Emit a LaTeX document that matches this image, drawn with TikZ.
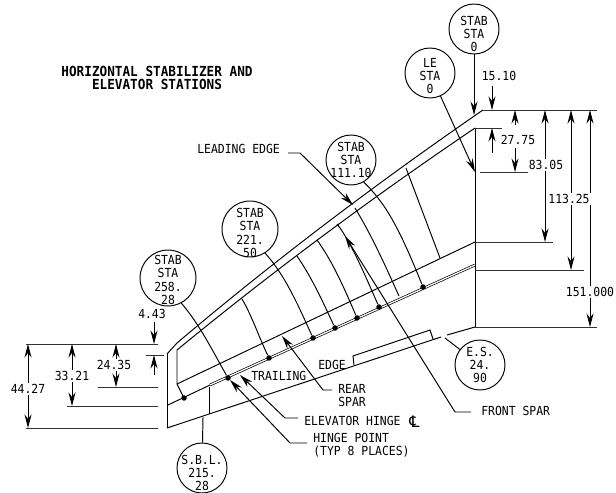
\documentclass[tikz,border=0pt]{standalone}
\usepackage{fontspec}
\newfontfamily\drawfont[FakeStretch=0.915]{DejaVu Sans Mono}
\newfontfamily\symbfont{DejaVu Sans}
\usetikzlibrary{arrows.meta}
\tikzset{
  part/.style={line width=0.55pt},
  dim/.style={line width=0.5pt, color=black!80},
  arrow/.style={line width=0.55pt, -{Stealth[length=0.27cm,width=0.14cm]}},
  bubble/.style={circle, draw, line width=0.55pt, inner sep=0pt},
  bubbletext/.style={align=center, inner sep=0pt, font=\drawfont\fontsize{7.1}{7.6}\selectfont},
  callout/.style={inner sep=0pt, align=left, font=\drawfont\fontsize{7.1}{7.4}\selectfont},
  size/.style={inner sep=1pt, fill=white, font=\drawfont\fontsize{7.1}{7.4}\selectfont},
  heading/.style={inner sep=0pt, align=center, font=\drawfont\bfseries\fontsize{7.9}{7.5}\selectfont},
  hingedot/.style={circle, fill=black, inner sep=0pt, minimum size=0.11cm}
}
\begin{document}
\begin{tikzpicture}[x=0.02cm,y=-0.02cm]
\useasboundingbox (0,0) rectangle (616,493);
% title
\node[heading] (title) at (157,78) {HORIZONTAL STABILIZER AND\\ELEVATOR STATIONS};
% stabilizer outline
\draw[part] (177,343) .. controls (275,260) and (377,183) .. (483,110);
\draw[part] (167,354) -- (177,343);
\draw[part] (177,350) .. controls (273,271) and (373,197) .. (475,128);
\draw[part] (475,128) -- (475,327);
\draw[part] (167,354) -- (167,428);
\draw[part] (167,428) -- (441,337);
\draw[part] (447,335) -- (475,327);
\draw[part] (177,350) -- (177,384) -- (184,398);
% rear spar and hinge
\draw[part] (177,384) -- (475,242);
\draw[part] (168,405) -- (210,385);
\draw[line width=0.4pt, double, double distance=0.7pt] (210,385) -- (475,265);
\draw[part] (354,365) -- (353,356) -- (430,330) -- (433,339);
\draw[part] (209,387) -- (209,414);
% hinge points
\node[hingedot] (hingeA) at (184,398) {};
\node[hingedot] (hingeB) at (228,378) {};
\node[hingedot] (hingeC) at (269,358) {};
\node[hingedot] (hingeD) at (313,338) {};
\node[hingedot] (hingeE) at (335,328) {};
\node[hingedot] (hingeF) at (357,318) {};
\node[hingedot] (hingeG) at (379,307) {};
\node[hingedot] (hingeH) at (423,287) {};
% station bubbles
\node[bubble, minimum size=1cm, label={[bubbletext, yshift=-0.1cm]center:STAB\\STA\\0}] (stabzero) at (474,29) {};
\node[bubble, minimum size=1cm, label={[bubbletext, yshift=-0.06cm]center:LE\\STA\\0}] (lezero) at (430,73) {};
\node[bubble, minimum size=1cm, label={[bubbletext]center:STAB\\STA\\111.10}] (stabone) at (351,160) {};
\node[bubble, minimum size=1.12cm, label={[bubbletext, yshift=-0.08cm]center:STAB\\STA\\221.\\50}] (stabtwo) at (250,229) {};
\node[bubble, minimum size=1.12cm, label={[bubbletext, yshift=-0.04cm]center:STAB\\STA\\258.\\28}] (stabthree) at (168,278) {};
\node[bubble, minimum size=1cm, label={[bubbletext, yshift=-0.1cm]center:S.B.L.\\215.\\28}] (sbl) at (202,468) {};
\node[bubble, minimum size=1cm, label={[bubbletext]center:E.S.\\24.\\90}] (es) at (480,365) {};
% ribs
\draw[part] (stabone.-60) .. controls (385,203) and (398,225) .. (hingeH);
\draw[part] (stabtwo.-58) .. controls (285,275) and (298,305) .. (hingeD);
\draw[part] (stabthree.-62) .. controls (200,325) and (212,350) .. (hingeB);
\draw[part] (242,299) .. controls (252,316) and (258,335) .. (hingeC);
\draw[part] (297,256) .. controls (312,278) and (322,300) .. (hingeE);
\draw[part] (317,240) .. controls (333,262) and (345,290) .. (hingeF);
\draw[part] (337,224) .. controls (350,240) and (365,275) .. (hingeG);
\draw[part] (355,208) .. controls (372,236) and (385,265) .. (399,296);
\draw[part] (406,168) -- (440,258);
% leaders
\coordinate (stabzeroend) at (474,115);
\coordinate (lezeroend) at (475,172);
\coordinate (sblend) at (203,417);
\coordinate (esend) at (445,338);
\draw[arrow] (stabzero) -- (stabzeroend);
\draw[arrow] (lezero) -- (lezeroend);
\draw[part] (sbl) -- (sblend);
\draw[part] (es) -- (esend);
% callouts
\node[callout, anchor=west] (leading) at (197,149) {LEADING EDGE};
\node[callout, anchor=west] (frontspar) at (481,411) {FRONT SPAR};
\node[callout, anchor=west] (rearspar) at (338,396) {REAR\\SPAR};
\node[callout, anchor=west] (elevator) at (304,421) {ELEVATOR HINGE};
\node[callout, anchor=west] (centerline) at (409,422) {{\symbfont\fontsize{9}{9}\selectfont ℄}};
\node[callout, anchor=west] (hingepoint) at (313,445) {HINGE POINT\\(TYP 8 PLACES)};
\node[callout, anchor=west] (trailing) at (251,376) {TRAILING};
\node[callout, anchor=west] (edge) at (318,365) {EDGE};
\coordinate (leadingtip) at (353,205);
\coordinate (fronttip) at (345,236);
\coordinate (reartip) at (282,336);
\coordinate (elevatortip) at (240,375);
\coordinate (hingetip) at (230,380);
\draw[arrow] (288,153) -- (300,153) -- (leadingtip);
\draw[arrow] (471,412) -- (455,412) -- (fronttip);
\draw[arrow] (332,390) -- (323,390) -- (reartip);
\draw[arrow] (298,418) -- (285,418) -- (elevatortip);
\draw[arrow] (307,443) -- (290,443) -- (hingetip);
% right dimensions
\draw[dim] (483,110) -- (597,110);
\draw[dim] (475,128) -- (502,128);
\draw[dim] (480,172) -- (528,172);
\draw[dim] (475,242) -- (553,242);
\draw[dim] (475,270) -- (584,270);
\draw[dim] (475,327) -- (597,327);
\draw[arrow] (492,86) -- (492,110);
\draw[arrow] (492,153) -- (492,128);
\draw[arrow] (515,125) -- (515,110);
\draw[arrow] (515,148) -- (515,172);
\draw[arrow] (545,176) -- (545,110);
\draw[arrow] (545,176) -- (545,242);
\draw[arrow] (571,199) -- (571,110);
\draw[arrow] (571,199) -- (571,270);
\draw[arrow] (590,292) -- (590,110);
\draw[arrow] (590,292) -- (590,327);
\node[size] (sizeA) at (499,76) {15.10};
\node[size] (sizeB) at (518,140) {27.75};
\node[size] (sizeC) at (546,165) {83.05};
\node[size] (sizeD) at (569,199) {113.25};
\node[size] (sizeE) at (590,292) {151.000};
% left dimensions
\draw[dim] (26,344) -- (158,344);
\draw[dim] (146,355) -- (164,355);
\draw[dim] (98,387) -- (158,387);
\draw[dim] (67,406) -- (158,406);
\draw[dim] (26,428) -- (158,428);
\draw[arrow] (154,322) -- (154,344);
\draw[arrow] (154,375) -- (154,355);
\draw[arrow] (116,365) -- (116,344);
\draw[arrow] (116,365) -- (116,387);
\draw[arrow] (72,376) -- (72,344);
\draw[arrow] (72,376) -- (72,406);
\draw[arrow] (28,389) -- (28,344);
\draw[arrow] (28,389) -- (28,428);
\node[size] (sizeF) at (152,314) {4.43};
\node[size] (sizeG) at (114,365) {24.35};
\node[size] (sizeH) at (72,376) {33.21};
\node[size] (sizeI) at (28,389) {44.27};
\end{tikzpicture}
\end{document}
